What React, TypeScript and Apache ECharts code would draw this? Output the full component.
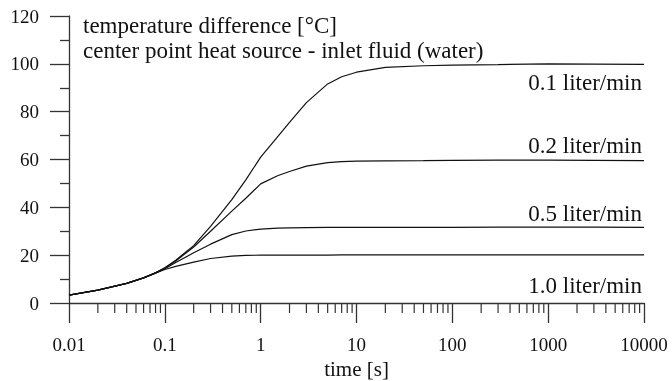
import React, { useEffect, useRef } from "react";
import * as echarts from "echarts";

const times = [0.01, 0.02, 0.04, 0.06, 0.08, 0.1, 0.13, 0.2, 0.3, 0.5, 0.7, 1, 1.5, 2, 3, 5, 7, 10, 20, 50, 100, 300, 1000, 3000, 10000];
const flow01 = [3.3, 5.4, 8.2, 10.5, 12.6, 14.7, 17.9, 24.0, 32.0, 43.2, 51.5, 61.0, 69.5, 75.5, 83.8, 91.6, 94.6, 96.5, 98.5, 99.2, 99.5, 99.7, 100.0, 99.9, 99.8];
const flow02 = [3.3, 5.4, 8.2, 10.5, 12.6, 14.6, 17.6, 23.4, 30.0, 38.4, 43.8, 49.8, 53.2, 55.0, 57.2, 58.7, 59.1, 59.3, 59.4, 59.5, 59.6, 59.7, 59.7, 59.6, 59.5];
const flow05 = [3.3, 5.4, 8.2, 10.5, 12.6, 14.3, 16.9, 21.0, 24.6, 28.6, 30.1, 30.9, 31.3, 31.4, 31.5, 31.6, 31.6, 31.6, 31.6, 31.6, 31.6, 31.7, 31.7, 31.7, 31.6];
const flow10 = [3.3, 5.4, 8.2, 10.5, 12.5, 14.0, 15.3, 17.1, 18.6, 19.6, 19.9, 20.0, 20.0, 20.0, 20.0, 20.0, 20.1, 20.1, 20.1, 20.1, 20.1, 20.1, 20.1, 20.1, 20.1];
const seriesNames = ["0.1 liter/min", "0.2 liter/min", "0.5 liter/min", "1.0 liter/min"];
const titleLines = ["temperature difference [°C]", "center point heat source - inlet fluid (water)"];
const xAxisTitle = "time [s]";
const decades = [0.01, 0.1, 1, 10, 100, 1000];
const minorMultipliers = [2, 3, 4, 5, 6, 7, 8, 9];

const FONT = "'Liberation Serif', 'Times New Roman', serif";
const INK = "#111";
const AXIS = "#333";

export default function App() {
  const ref = useRef<HTMLDivElement>(null);
  useEffect(() => {
    if (!ref.current) return;
    const chart = echarts.init(ref.current, undefined, { renderer: "svg" });
    const minorTicks: number[][] = [];
    decades.forEach((d) => minorMultipliers.forEach((m) => minorTicks.push([d * m, 0])));
    const allSeries = [flow01, flow02, flow05, flow10];
    const labelY = [82, 145, 213, 285];
    chart.setOption({
      animation: false,
      grid: { left: 69, right: 28, top: 16, bottom: 78, outerBoundsMode: "none", containLabel: false },
      xAxis: {
        type: "log",
        logBase: 10,
        min: 0.01,
        max: 10000,
        name: xAxisTitle,
        nameLocation: "middle",
        nameGap: 55,
        nameTextStyle: { fontFamily: FONT, fontSize: 21, color: INK },
        axisLine: { show: true, lineStyle: { color: AXIS, width: 1.3 } },
        axisTick: { show: true, length: 20, lineStyle: { color: AXIS, width: 1.3 } },
        minorTick: { show: false },
        splitLine: { show: false },
        axisLabel: {
          margin: 32,
          fontFamily: FONT,
          fontSize: 19,
          color: INK,
          formatter: (v: number) => (v >= 1 ? String(Math.round(v)) : String(parseFloat(v.toPrecision(2)))),
        },
      },
      yAxis: {
        type: "value",
        min: 0,
        max: 120,
        interval: 20,
        axisLine: { show: true, lineStyle: { color: AXIS, width: 1.3 } },
        axisTick: { show: true, length: 19, lineStyle: { color: AXIS, width: 1.3 } },
        minorTick: { show: true, splitNumber: 2, length: 9, lineStyle: { color: AXIS, width: 1.3 } },
        splitLine: { show: false },
        minorSplitLine: { show: false },
        axisLabel: { margin: 30, fontFamily: FONT, fontSize: 19, color: INK },
      },
      series: [
        ...allSeries.map((vals, i) => ({
          name: seriesNames[i],
          type: "line",
          data: times.map((t, j) => [t, vals[j]]),
          showSymbol: false,
          smooth: false,
          clip: true,
          lineStyle: { color: INK, width: 1.2 },
          silent: true,
        })),
        {
          type: "custom",
          coordinateSystem: "cartesian2d",
          clip: false,
          silent: true,
          data: minorTicks,
          renderItem: (params: any, api: any) => {
            const p = api.coord([api.value(0), 0]);
            return {
              type: "line",
              shape: { x1: p[0], y1: p[1], x2: p[0], y2: p[1] + 10 },
              style: { stroke: AXIS, lineWidth: 1.2 },
            };
          },
        },
      ],
      graphic: [
        { type: "text", x: 83, y: 25, style: { text: titleLines[0], fontFamily: FONT, fontSize: 23, fill: INK, textVerticalAlign: "middle" } },
        { type: "text", x: 83, y: 50, style: { text: titleLines[1], fontFamily: FONT, fontSize: 23, fill: INK, textVerticalAlign: "middle" } },
        ...seriesNames.map((n, i) => ({
          type: "text",
          x: 642,
          y: labelY[i],
          style: { text: n, fontFamily: FONT, fontSize: 23, fill: INK, textAlign: "right", textVerticalAlign: "middle" },
        })),
      ],
    });
    return () => chart.dispose();
  }, []);
  return <div ref={ref} style={{ position: "fixed", left: 0, top: 0, width: 672, height: 381 }} />;
}
